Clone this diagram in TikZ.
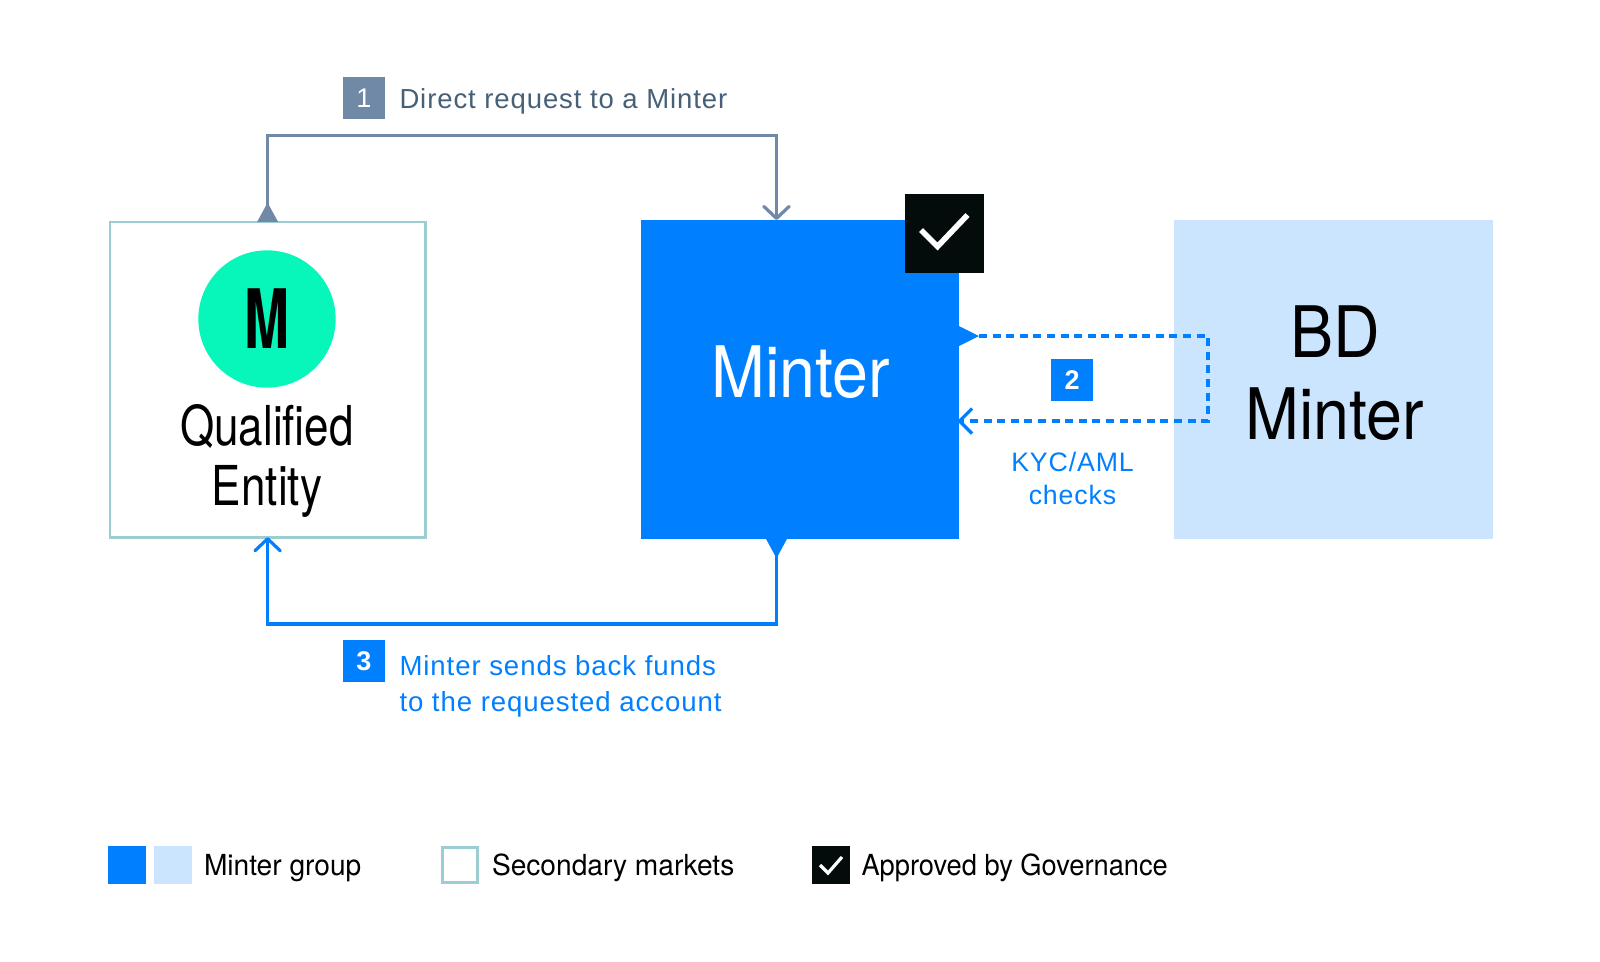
\documentclass[tikz,border=0pt]{standalone}
\usepackage{fontspec}
\usetikzlibrary{arrows.meta}
\setmainfont{Liberation Sans}
\newfontfamily\grofont[FakeStretch=0.8]{TeX Gyre Heros}
\newfontfamily\growide[FakeStretch=0.91]{TeX Gyre Heros}
\newfontfamily\groleg[FakeStretch=0.97]{TeX Gyre Heros}
\newfontfamily\grolegb[FakeStretch=0.94]{TeX Gyre Heros}
\newfontfamily\gronarrow[FakeStretch=0.66]{TeX Gyre Heros}
\newfontfamily\labfont[LetterSpace=3.3]{Liberation Sans}
\newcommand{\fs}[2]{\fontsize{\dimexpr#1pt*3/4\relax}{\dimexpr#2pt*3/4\relax}\selectfont}
\definecolor{mblue}{HTML}{0080FF}
\definecolor{mlight}{HTML}{CCE5FF}
\definecolor{teal}{HTML}{9CCDD2}
\definecolor{slate}{HTML}{7089A6}
\definecolor{slatetxt}{HTML}{466078}
\definecolor{blackbox}{HTML}{030C0A}
\definecolor{mint}{HTML}{07F7BB}
\tikzset{
  x=0.75pt,y=-0.75pt,
  boxn/.style={rectangle,inner sep=0pt,outer sep=0pt,minimum width=#1,minimum height=#1},
  lab/.style={inner sep=0pt,outer sep=0pt},
  leg/.style={lab,anchor=base west,font=\groleg\fs{29}{29}},
  flow/.style={line width=2.4pt},
  tipboth/.style={{Triangle[reversed,length=14.5pt,width=15pt]}-{Straight Barb[length=9pt,width=19pt,line width=2.4pt,round]}},
}
\begin{document}
\begin{tikzpicture}
\useasboundingbox (0,0) rectangle (1600,961);
\fill[white] (0,0) rectangle (1600,961);
% main boxes
\node[boxn=236.5pt,draw=teal,line width=2pt,fill=white] (qe) at (267.6,379.5) {};
\node[boxn=238.8pt,fill=mblue] (minter) at (800,379.5) {};
\node[boxn=238.8pt,fill=mlight] (bd) at (1333.5,379.5) {};
\node[boxn=59pt,fill=blackbox] (ok) at (944.5,233.5) {};
\coordinate (cka) at (921,230);\coordinate (ckb) at (937.5,246.5);\coordinate (ckc) at (967.5,215);
\draw[white,line width=4.2pt] (cka) -- (ckb) -- (ckc);
% logo
\node[circle,fill=mint,minimum size=103pt,inner sep=0pt,outer sep=0pt] (logo) at (267,319) {};
\node[lab,font=\gronarrow\bfseries\fs{82}{82}] (logom) at (267.5,319) {M};
% box texts
\node[lab,anchor=center,align=center,font=\grofont\fs{55}{60}] (qetext) at (267,461) {Qualified\\Entity};
\node[lab,anchor=center,text=white,font=\growide\fs{71}{71}] (mtext) at (801,372) {Minter};
\node[lab,anchor=center,align=center,font=\growide\fs{71}{82}] (bdtext) at (1335,373) {BD\\Minter};
% connector 1
\coordinate (mtop) at (776.5,220);
\coordinate (c1y) at (0,135.5);
\draw[flow,slate,tipboth] (qe.north) -- (qe.north |- c1y) -- (mtop |- c1y) -- (mtop);
\node[boxn=31.5pt,fill=slate,text=white,font=\labfont\fs{27}{27}] (n1) at (364,98) {1};
\node[lab,anchor=base west,text=slatetxt,font=\labfont\fs{27.5}{27.5}] (t1) at (399.5,108) {Direct request to a Minter};
% connector 2
\coordinate (m2a) at (959.5,336);
\coordinate (m2b) at (959.5,421);
\coordinate (m2x) at (1208,336);
\fill[mblue] (959,326) -- (979,336) -- (959,346) -- cycle;
\draw[flow,mblue,dash pattern=on 6pt off 4.2pt] (979,336) -- (m2x) -- (m2x |- m2b) -- (962,421);
\draw[flow,mblue] (972,408.5) -- (m2b) -- (972,433.5);
\node[boxn=31.5pt,fill=mblue,text=white,font=\labfont\bfseries\fs{27}{27}] (n2) at (1072,380) {2};
\node[lab,anchor=center,align=center,text=mblue,font=\labfont\fs{26.7}{33}] (t2) at (1072.5,478) {KYC/AML\\checks};
% connector 3
\coordinate (mbot) at (776.5,539);
\coordinate (c3y) at (0,624);
\draw[flow,mblue,tipboth] (mbot) -- (mbot |- c3y) -- (qe.south |- c3y) -- (qe.south);
\node[boxn=31.5pt,fill=mblue,text=white,font=\labfont\bfseries\fs{27}{27}] (n3) at (364,661) {3};
\node[lab,anchor=north west,align=left,text=mblue,font=\labfont\fs{27.6}{36}] (t3) at (399.5,655) {Minter sends back funds\\to the requested account};
% legend
\node[boxn=28pt,fill=mblue] (l1) at (127,865) {};
\node[boxn=28pt,fill=mlight] (l2) at (173,865) {};
\node[leg] (l1t) at (204,875) {Minter group};
\node[boxn=26pt,draw=teal,line width=2pt,fill=white] (l3) at (460,865) {};
\node[leg] (l3t) at (492,875) {Secondary markets};
\node[boxn=28pt,fill=blackbox] (l4) at (831,865) {};
\coordinate (lka) at (820,865);\coordinate (lkb) at (828,873);\coordinate (lkc) at (842,857);
\draw[white,line width=2.4pt] (lka) -- (lkb) -- (lkc);
\node[leg,font=\grolegb\fs{29}{29}] (l4t) at (861.5,875) {Approved by Governance};
\end{tikzpicture}
\end{document}
